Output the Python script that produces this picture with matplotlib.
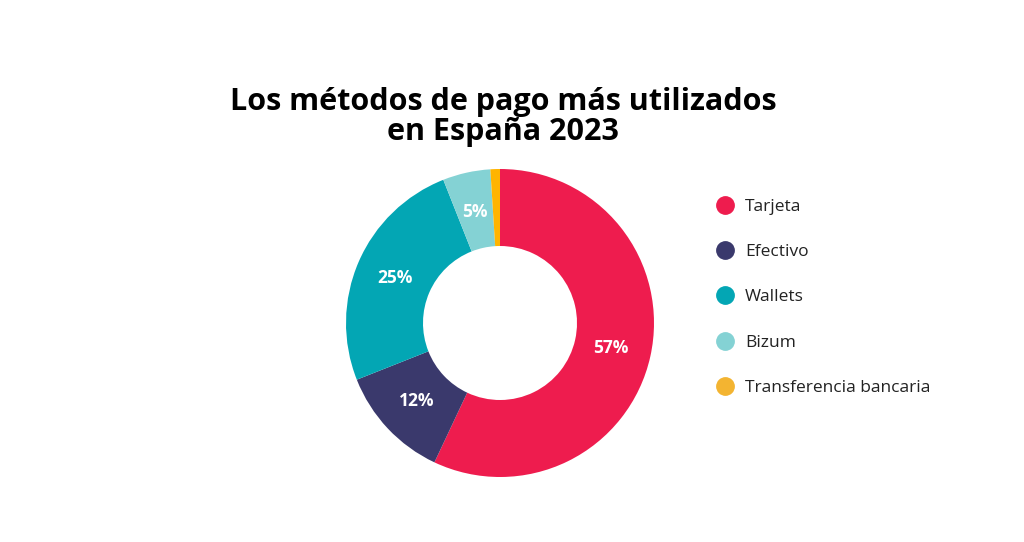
import matplotlib
matplotlib.use("Agg")
import matplotlib.pyplot as plt
from matplotlib.lines import Line2D

# data
categorias = ["Tarjeta", "Efectivo", "Wallets", "Bizum", "Transferencia bancaria"]
porcentajes = [57, 12, 25, 5, 1]
colores = ["#EE1C4E", "#3A396C", "#03A6B4", "#84D2D4", "#FFB400"]
colores_leyenda = ["#EE1C4E", "#3A396C", "#03A6B4", "#84D2D4", "#F3B431"]
titulo = "Los métodos de pago más utilizados\nen España 2023"

plt.rcParams['font.family'] = ['Open Sans', 'DejaVu Sans']

fig = plt.figure(figsize=(10.24, 5.42), dpi=100)
fig.patch.set_facecolor("white")

# donut axes: centre at (500, 323) px, radius 154 px
ax = fig.add_axes([340 / 1024, (542 - 323 - 160) / 542, 320 / 1024, 320 / 542])
wedges, texts, autotexts = ax.pie(
    porcentajes, colors=colores, startangle=90, counterclock=False,
    radius=1, wedgeprops=dict(width=0.5, linewidth=0),
    autopct=lambda p: f"{p:.0f}%" if p >= 3 else "", pctdistance=0.74)
for t in autotexts:
    t.set_color("white")
    t.set_fontsize(12.5)
    t.set_fontweight("bold")
lim = 160 / 154
ax.set_xlim(-lim, lim)
ax.set_ylim(-lim, lim)
ax.set_aspect("equal")
ax.axis("off")

fig.text(503 / 1024, 1 - 117 / 542, titulo, ha="center", va="center",
         fontsize=22, fontweight="bold", color="black", linespacing=1.0)

handles = [Line2D([0], [0], marker="o", linestyle="", markersize=12.5,
                  markerfacecolor=c, markeredgecolor=c) for c in colores_leyenda]
fig.legend(handles, categorias, loc="upper left",
           bbox_to_anchor=(699 / 1024, 1 - 183 / 542), frameon=False,
           fontsize=12.5, labelcolor="#222222", labelspacing=1.68,
           handletextpad=0.55, handlelength=1.2)

fig.savefig("out.png", dpi=100, facecolor="white")
